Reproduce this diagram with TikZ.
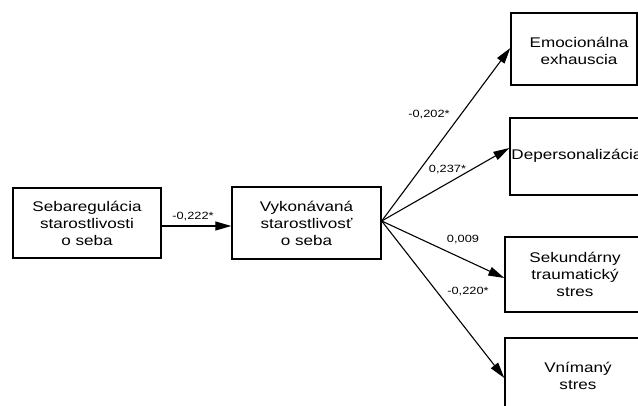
\documentclass[tikz,border=0pt]{standalone}
\usepackage{fontspec}
\newfontfamily\arialx[FakeStretch=1.22]{Liberation Sans}
\usetikzlibrary{arrows.meta}
\begin{document}
\begin{tikzpicture}[x=1pt,y=-1pt,
  box/.style={draw=black,line width=1.4pt,rectangle,align=center,inner sep=0pt,
    font=\arialx\fontsize{14pt}{17pt}\selectfont},
  arr/.style={line width=1.1pt,-{Triangle[length=16pt,width=9pt]}},
  lab/.style={font=\arialx\fontsize{10.5pt}{12pt}\selectfont,inner sep=0pt}]
\useasboundingbox (0,0) rectangle (638,406);
\clip (0,0) rectangle (638,406);
\node[box,minimum width=148pt,minimum height=70pt] (A) at (87,223) {Sebaregulácia\\starostlivosti\\o seba};
\node[box,minimum width=149pt,minimum height=72pt] (B) at (306.5,223) {Vykonávaná\\starostlivosť\\o seba};
\node[box,minimum width=126pt,minimum height=72pt] (C) at (574,49) {};
\node[box,minimum width=135pt,minimum height=77pt] (D) at (577.5,156.5) {};
\node[box,minimum width=140pt,minimum height=75pt] (E) at (575,274.5) {};
\node[box,minimum width=140pt,minimum height=76pt] (F) at (575,376) {};
\node[box,draw=none] (Ct) at (579,50.5) {Emocionálna\\exhauscia};
\node[box,draw=none] (Dt) at (577,156) {Depersonalizácia};
\node[box,draw=none] (Et) at (575,274.5) {Sekundárny\\traumatický\\stres};
\node[box,draw=none] (Ft) at (578,376) {Vnímaný\\stres};
\coordinate (O) at ([yshift=2pt]B.east);
\draw[arr] ([yshift=-3pt]A.east) -- ([yshift=-3pt]B.west);
\draw[arr] (O) -- ([yshift=1pt]C.west);
\draw[arr] (O) -- ([yshift=8.5pt]D.west);
\draw[arr] (O) -- ([yshift=-3.5pt]E.west);
\draw[arr] (O) -- ([yshift=-2pt]F.west);
\node[lab] (l1) at (193,217) {-0,222*};
\node[lab] (l2) at (429,115) {-0,202*};
\node[lab] (l3) at (447.5,170) {0,237*};
\node[lab] (l4) at (463,240) {0,009};
\node[lab] (l5) at (468,292) {-0,220*};
\end{tikzpicture}
\end{document}
